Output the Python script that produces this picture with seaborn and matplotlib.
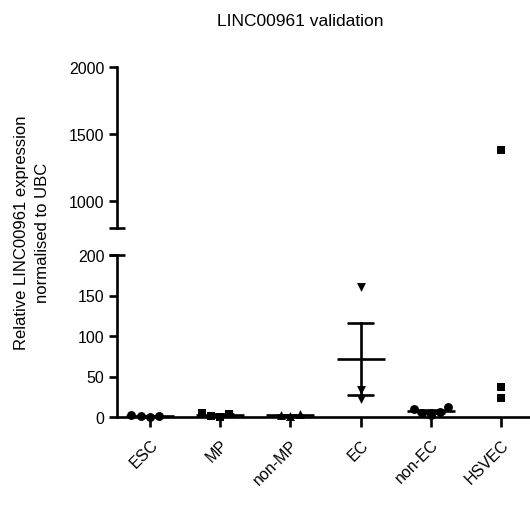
import numpy as np
import pandas as pd
import matplotlib
matplotlib.use("Agg")
import matplotlib.pyplot as plt
import seaborn as sns

# Cell populations on the x axis
groups = ["ESC", "MP", "non-MP", "EC", "non-EC", "HSVEC"]

# Relative LINC00961 expression (normalised to UBC) per replicate
esc = [1.2, 0.3, 1.0, 2.4]
mp = [4.0, 0.5, 1.5, 5.0]
non_mp = [1.5, 2.0, 3.5]
ec = [160.0, 33.0, 22.0]
non_ec = [10.0, 2.5, 6.0, 5.0, 12.0]
hsvec = [1380.0, 24.0, 37.0]

group_values = [esc, mp, non_mp, ec, non_ec, hsvec]
group_markers = ["o", "s", "^", "v", "o", "s"]

lower_ticks = [0, 50, 100, 150, 200]
upper_ticks = [1000, 1500, 2000]
lower_range = (0, 200)
upper_range = (800, 2000)

df = pd.DataFrame(
    [(g, v) for g, vals in zip(groups, group_values) for v in vals],
    columns=["group", "value"],
)

sns.set_theme(style="ticks")
plt.rcParams["font.family"] = ["Liberation Sans", "DejaVu Sans"]
LW = 1.9
plt.rcParams.update({
    "axes.linewidth": LW,
    "axes.edgecolor": "black",
    "text.color": "black",
    "xtick.color": "black",
    "ytick.color": "black",
    "xtick.labelcolor": "black",
    "ytick.labelcolor": "black",
})

W, H = 530, 510
fig = plt.figure(figsize=(W / 100, H / 100), dpi=100)
ax_lo = fig.add_axes([117 / W, (H - 418) / H, (W - 117) / W, 162 / H])
ax_hi = fig.add_axes([117 / W, (H - 229) / H, (W - 117) / W, 161 / H])

for ax, (lo, hi) in ((ax_lo, lower_range), (ax_hi, upper_range)):
    part = df[(df["value"] >= lo) & (df["value"] <= hi)]
    for g, m in zip(groups, group_markers):
        sub = part[part["group"] == g]
        if sub.empty:
            continue
        sns.swarmplot(data=sub, x="group", y="value", order=groups, marker=m,
                      color="black", size=6.4, ax=ax, clip_on=False, zorder=3)

# Mean with SEM for the groups whose summary sits in the lower range
summary = df[df["group"] != "HSVEC"]
sns.pointplot(data=summary, x="group", y="value", order=groups, errorbar="se",
              capsize=0.36, color="black", markers="_", linestyles="none",
              markersize=34, markeredgewidth=LW,
              err_kws={"linewidth": LW}, ax=ax_lo, zorder=4)

for ax in (ax_lo, ax_hi):
    ax.set_xlim(-0.47, 5.41)
    ax.set_xlabel("")
    ax.set_ylabel("")
    ax.spines["top"].set_visible(False)
    ax.spines["right"].set_visible(False)
    ax.tick_params(axis="y", length=6, width=LW, labelsize=11.5, pad=3,
                   colors="black")
    ax.set_facecolor("none")

ax_lo.set_ylim(*lower_range)
ax_lo.set_yticks(lower_ticks)
ax_lo.set_yticklabels([str(t) for t in lower_ticks])
ax_lo.set_xticks(range(len(groups)))
ax_lo.set_xticklabels(groups, rotation=45, ha="right", rotation_mode="anchor",
                      fontsize=11.5)
ax_lo.tick_params(axis="x", length=7, width=LW, pad=7, colors="black")

ax_hi.set_ylim(*upper_range)
ax_hi.set_yticks(upper_ticks)
ax_hi.set_yticklabels([str(t) for t in upper_ticks])
ax_hi.spines["bottom"].set_visible(False)
ax_hi.set_xticks([])

# Break marks across the y axis
tw = 8 / (W - 117)
ax_hi.plot([-tw, tw], [0, 0], transform=ax_hi.transAxes, color="black",
           lw=LW, clip_on=False, solid_capstyle="butt")
ax_lo.plot([-tw, tw], [1, 1], transform=ax_lo.transAxes, color="black",
           lw=LW, clip_on=False, solid_capstyle="butt")

fig.text(300 / W, 1 - 22 / H, "LINC00961 validation", ha="center",
         va="center", fontsize=12.5, color="black")
fig.text(32 / W, 1 - 233 / H,
         "Relative LINC00961 expression\nnormalised to UBC",
         rotation=90, ha="center", va="center", fontsize=12, color="black",
         multialignment="center", linespacing=1.45)

fig.savefig("out.png", dpi=100)
